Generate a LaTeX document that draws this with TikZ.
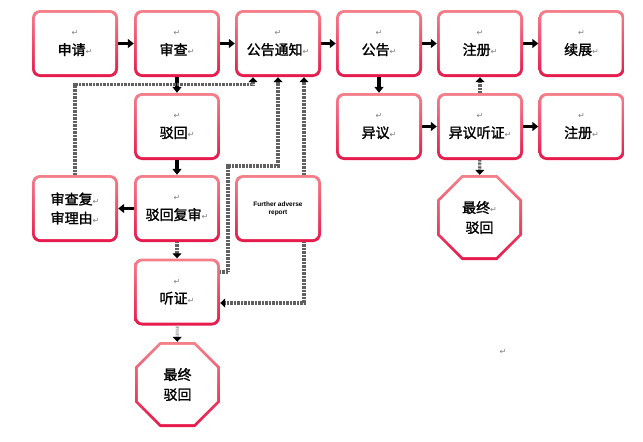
\documentclass[tikz,border=0pt]{standalone}
\usepackage{fontspec}
\usepackage{tikz}
\usetikzlibrary{arrows.meta,shapes.geometric}
\newfontfamily\cjk{Noto Sans CJK SC}[AutoFakeBold=1.5]
\newfontfamily\retfont{DejaVu Sans}
\newfontfamily\latinsans{Liberation Sans}
\definecolor{boxtop}{RGB}{244,128,138}
\definecolor{boxbot}{RGB}{230,25,75}
\newcommand{\ret}{{\retfont\mdseries\fontsize{8}{8}\selectfont\color{gray}↵}}

\tikzset{
  stage/.style={rectangle, rounded corners=8pt, minimum width=86pt, minimum height=67pt,
    inner sep=0pt, top color=boxtop, bottom color=boxbot, align=center,
    font=\cjk\bfseries\fontsize{14}{19}\selectfont,
    path picture={\fill[white,rounded corners=6pt]
      ([shift={(2.8pt,-2.8pt)}]path picture bounding box.north west) rectangle
      ([shift={(-2.8pt,2.8pt)}]path picture bounding box.south east);}},
  final/.style={regular polygon, regular polygon sides=8, minimum size=92pt,
    inner sep=0pt, top color=boxtop, bottom color=boxbot, align=center,
    font=\cjk\bfseries\fontsize{14}{20}\selectfont,
    path picture={\fill[white]
      ([shift={(22.5:43pt)}]path picture bounding box.center) --
      ([shift={(67.5:43pt)}]path picture bounding box.center) --
      ([shift={(112.5:43pt)}]path picture bounding box.center) --
      ([shift={(157.5:43pt)}]path picture bounding box.center) --
      ([shift={(202.5:43pt)}]path picture bounding box.center) --
      ([shift={(247.5:43pt)}]path picture bounding box.center) --
      ([shift={(292.5:43pt)}]path picture bounding box.center) --
      ([shift={(337.5:43pt)}]path picture bounding box.center) -- cycle;}},
  flow/.style={line width=3.4pt, -{Triangle[length=6pt,width=9pt]}},
  hatch/.style={line width=3.2pt, draw=gray!75!black, dash pattern=on 0.8pt off 0.6pt,
    -{Triangle[length=5pt,width=9pt,color=black]}}
}

\begin{document}
\begin{tikzpicture}[x=1pt,y=-1pt]
  \useasboundingbox (0,0) rectangle (643,442);

  % Row one
  \node[stage] (apply) at (75,43.5) {\ret\\申请\ret};
  \node[stage] (exam) at (177,43.5) {\ret\\审查\ret};
  \node[stage] (note) at (278,43.5) {\ret\\公告通知\ret};
  \node[stage] (pub) at (379,43.5) {\ret\\公告\ret};
  \node[stage] (reg) at (480,43.5) {\ret\\注册\ret};
  \node[stage] (renew) at (581.5,43.5) {\ret\\续展\ret};

  % Row two
  \node[stage] (reject) at (177,126.5) {\ret\\驳回\ret};
  \node[stage] (oppo) at (379,126.5) {\ret\\异议\ret};
  \node[stage] (ohear) at (480,126.5) {\ret\\异议听证\ret};
  \node[stage] (reg2) at (581.5,126.5) {\ret\\注册\ret};

  % Row three
  \node[stage] (reason) at (75,208.5) {审查复\ret\\审理由\ret};
  \node[stage] (review) at (177,208.5) {\ret\\驳回复审\ret};
  \node[stage, font=\latinsans\bfseries\fontsize{6.5}{8}\selectfont] (further) at (278,208.5) {Further adverse\\report};

  % Hearing and final rejections
  \node[stage] (hear) at (177,292) {\ret\\听证\ret};
  \node[final] (fin1) at (177.5,384.5) {最终\\驳回};
  \node[final] (fin2) at (479.5,217.5) {最终\ret\\驳回};
  \node (mark) at (503,352) {\ret};

  % Main flow
  \draw[flow] (apply) -- (exam);
  \draw[flow] (exam) -- (note);
  \draw[flow] (note) -- (pub);
  \draw[flow] (pub) -- (reg);
  \draw[flow] (reg) -- (renew);
  \draw[flow] (exam) -- (reject);
  \draw[flow] (pub) -- (oppo);
  \draw[flow] (oppo) -- (ohear);
  \draw[flow] (ohear) -- (reg2);
  \draw[flow] (reject) -- (review);
  \draw[flow] (review) -- (reason);

  % Hatched returns
  \coordinate (k1) at (228,166);
  \draw[hatch] (reason.north) -- ++(0,-90) -| ([xshift=-25pt]note.south);
  \draw[hatch] ([yshift=20pt]hear.east) -| (k1) -| (note.south);
  \draw[hatch] ([xshift=26pt]further.north) -- ([xshift=26pt]note.south);
  \draw[hatch] ([xshift=26pt]further.south) |- ([yshift=-11pt]hear.east);
  \draw[hatch] (review) -- (hear);
  \draw[hatch, draw=gray!60] (hear) -- (fin1);
  \draw[hatch] (ohear) -- (reg);
  \draw[hatch] (ohear) -- (fin2);
\end{tikzpicture}
\end{document}
